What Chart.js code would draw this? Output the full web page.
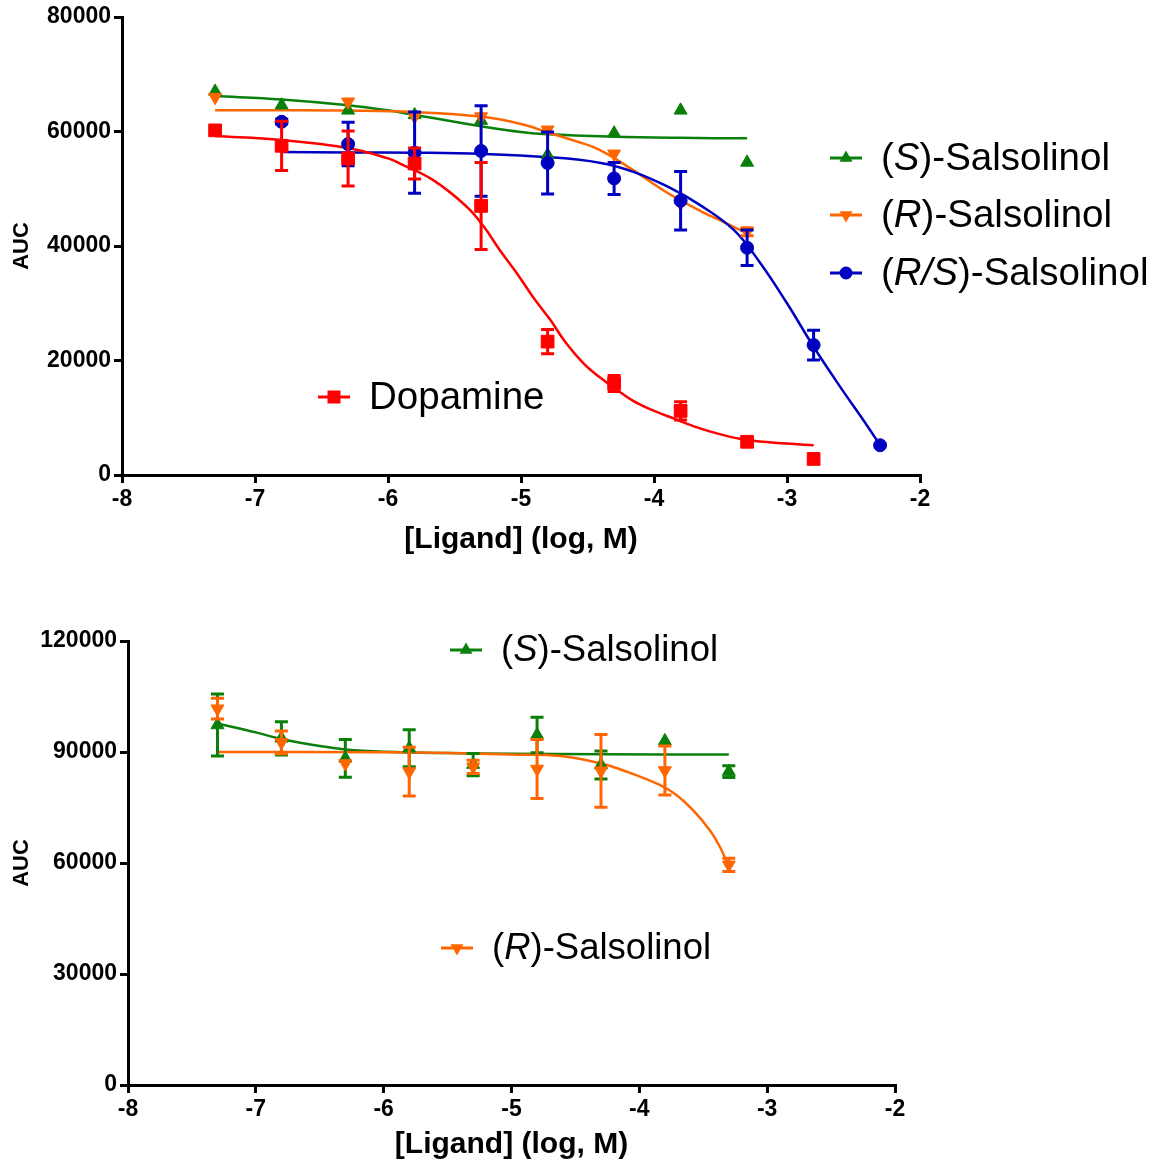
<!DOCTYPE html>
<html>
<head>
<meta charset="utf-8">
<script src="https://cdn.jsdelivr.net/npm/chart.js@4.4.0/dist/chart.umd.min.js"></script>
<style>
  body { margin: 0; background: #fff; }
  .box { position: absolute; left: 0; }
</style>
</head>
<body>
<div class="box" style="top:0"><canvas id="chart1" width="1157" height="560"></canvas></div>
<div class="box" style="top:580px"><canvas id="chart2" width="1157" height="584"></canvas></div>
<script>
// doses (log M)
const doses = [-7.3, -6.8, -6.3, -5.8, -5.3, -4.8, -4.3, -3.8, -3.3, -2.8, -2.3];

// top panel - means and SEM
const dopamine = [60200, 57500, 55300, 54400, 47000, 23300, 16000, 11200, 5800, 2800, null];
const dopamineErr = [null, 4300, 4800, 2700, 7600, 2100, 1400, 1600, null, null, null];
const sSals = [67000, 64600, 63700, 62900, 61900, 55900, 59700, 63700, 54600, null, null];
const rSals = [66000, 61700, 65200, 62600, 62600, 60300, 56100, 47400, 42500, null, null];
const rSalsErr = [null, null, null, null, null, null, null, null, 700, null, null];
const rsSals = [null, 61700, 57800, 56300, 56600, 54500, 51800, 47900, 39700, 22700, 5200];
const rsSalsErr = [null, 400, 3800, 7100, 7900, 5400, 2800, 5100, 3100, 2600, null];

// top panel - fitted curves
const dopCurveX = [-7.3, -6.8, -6.3, -6.0, -5.91, -5.66, -5.41, -5.28, -5.16, -5.03, -4.91, -4.78, -4.66, -4.53, -4.41, -4.28, -4.16, -4.03, -3.9, -3.7, -3.5, -3.3, -3.0, -2.8];
const dopCurveY = [59200, 58500, 57100, 55300, 54400, 51500, 46900, 43400, 39300, 35200, 31100, 27100, 23000, 19500, 17100, 14900, 13000, 11500, 10300, 8500, 7100, 6100, 5500, 5200];
const sCurveX = [-7.3, -6.8, -6.3, -6.0, -5.8, -5.5, -5.3, -5.0, -4.8, -4.3, -3.8, -3.3];
const sCurveY = [66200, 65600, 64600, 63700, 62900, 61700, 60900, 59900, 59500, 59100, 58900, 58800];
const rCurveX = [-7.3, -6.8, -6.3, -5.8, -5.3, -5.0, -4.78, -4.6, -4.41, -4.16, -3.9, -3.65, -3.45, -3.3];
const rCurveY = [63700, 63700, 63650, 63400, 62600, 61300, 59700, 58400, 56800, 53300, 49300, 46100, 43900, 42200];
const rsCurveX = [-6.8, -6.3, -5.8, -5.3, -4.78, -4.41, -4.16, -3.9, -3.65, -3.4, -3.2, -3.0, -2.8, -2.6, -2.4, -2.3];
const rsCurveY = [56400, 56350, 56300, 56100, 55500, 54550, 53000, 50400, 47100, 42800, 37000, 30000, 22400, 15400, 8700, 5200];

// bottom panel
const doses2 = [-7.3, -6.8, -6.3, -5.8, -5.3, -4.8, -4.3, -3.8, -3.3];
const sSals2 = [97300, 93700, 88300, 91000, 86600, 94600, 86500, 93000, 84700];
const sSals2Err = [8400, 4500, 5100, 5000, 3000, 4800, 3800, null, 1600];
const rSals2 = [101700, 92600, 86900, 84700, 86000, 85400, 84900, 85000, 59500];
const rSals2Err = [2800, 3100, null, 6600, 1800, 8000, 9800, 6600, 1800];
const sCurve2X = [-7.3, -7.0, -6.8, -6.5, -6.3, -6.0, -5.5, -5.0, -4.3, -3.3];
const sCurve2Y = [97700, 95300, 93500, 91600, 90700, 90100, 89700, 89500, 89400, 89300];
const rCurve2X = [-7.3, -6.0, -5.5, -5.0, -4.62, -4.3, -4.1, -3.84, -3.71, -3.58, -3.45, -3.37, -3.3];
const rCurve2Y = [90000, 89900, 89700, 89300, 88900, 86900, 84700, 81100, 78400, 74300, 68900, 64400, 59000];

const GREEN = "#0a800a";
const ORANGE = "#ff6600";
const BLUE = "#0000c0";
const RED = "#ff0000";
const FONT = "'Liberation Sans', Arial, Helvetica, sans-serif";

function pts(xs, ys) {
  let out = [];
  for (let i = 0; i < xs.length; i++) {
    if (ys[i] !== null && ys[i] !== undefined) out.push({ x: xs[i], y: ys[i] });
  }
  return out;
}

function markers(label, xs, ys, errs, color, style, radius, rotation) {
  return {
    type: "scatter",
    label: label,
    data: pts(xs, ys),
    errors: errs ? errs.filter((e, i) => ys[i] !== null) : null,
    backgroundColor: color,
    borderColor: color,
    borderWidth: 1,
    pointStyle: style,
    pointRadius: radius,
    pointHoverRadius: radius,
    rotation: rotation || 0,
    showLine: false,
  };
}

function curve(xs, ys, color) {
  return {
    type: "line",
    data: pts(xs, ys),
    borderColor: color,
    borderWidth: 2.5,
    pointRadius: 0,
    fill: false,
    tension: 0.4,
  };
}

// error bars drawn right before each marker set
const errorBars = {
  id: "errorBars",
  beforeDatasetDraw(chart, args) {
    const ds = chart.data.datasets[args.index];
    if (!ds.errors) return;
    const ctx = chart.ctx;
    const xs = chart.scales.x, ys = chart.scales.y;
    ctx.save();
    ctx.strokeStyle = ds.borderColor;
    ctx.lineWidth = 3;
    ds.data.forEach((p, i) => {
      const e = ds.errors[i];
      if (!e) return;
      const px = xs.getPixelForValue(p.x);
      const top = ys.getPixelForValue(p.y + e);
      const bot = ys.getPixelForValue(p.y - e);
      ctx.beginPath();
      ctx.moveTo(px, top); ctx.lineTo(px, bot);
      ctx.moveTo(px - 6.5, top); ctx.lineTo(px + 6.5, top);
      ctx.moveTo(px - 6.5, bot); ctx.lineTo(px + 6.5, bot);
      ctx.stroke();
    });
    ctx.restore();
  },
};

function drawMarker(ctx, style, x, y, color) {
  ctx.fillStyle = color;
  ctx.beginPath();
  if (style === "rect") {
    ctx.rect(x - 6.5, y - 6.5, 13, 13);
  } else if (style === "circle") {
    ctx.arc(x, y, 6.5, 0, Math.PI * 2);
  } else if (style === "up") {
    ctx.moveTo(x, y - 7.5); ctx.lineTo(x + 6.5, y + 3.75); ctx.lineTo(x - 6.5, y + 3.75);
  } else {
    ctx.moveTo(x, y + 7.5); ctx.lineTo(x + 6.5, y - 3.75); ctx.lineTo(x - 6.5, y - 3.75);
  }
  ctx.closePath();
  ctx.fill();
}

// legend entries with italic stereo descriptors
const legendPlugin = {
  id: "richLegend",
  afterDraw(chart, args, opts) {
    const ctx = chart.ctx;
    ctx.save();
    opts.items.forEach((it) => {
      ctx.strokeStyle = it.color;
      ctx.lineWidth = 3;
      ctx.beginPath();
      ctx.moveTo(it.x - 16, it.y); ctx.lineTo(it.x + 16, it.y);
      ctx.stroke();
      drawMarker(ctx, it.style, it.x, it.y, it.color);
      let tx = it.x + 35;
      ctx.fillStyle = "#000";
      ctx.textBaseline = "middle";
      it.parts.forEach((p) => {
        ctx.font = (p[1] ? "italic " : "") + opts.size + "px " + FONT;
        ctx.fillText(p[0], tx, it.y + 1);
        tx += ctx.measureText(p[0]).width;
      });
    });
    ctx.restore();
  },
};

function axes(yMax, yStep, yWidth, xHeight, titlePad) {
  const tickFont = { family: FONT, size: 23, weight: "bold" };
  return {
    x: {
      type: "linear", min: -8, max: -2,
      ticks: { stepSize: 1, color: "#000", font: tickFont, padding: 3 },
      grid: { drawOnChartArea: false, drawTicks: true, tickLength: 8, color: "#000", lineWidth: 3 },
      border: { display: true, color: "#000", width: 3 },
      title: { display: true, text: "[Ligand] (log, M)", color: "#000", font: { family: FONT, size: 30, weight: "bold" }, padding: { top: 0, bottom: titlePad } },
      afterFit(s) { s.height = xHeight; },
    },
    y: {
      type: "linear", min: 0, max: yMax,
      ticks: { stepSize: yStep, color: "#000", font: tickFont, padding: 3, callback: (v) => String(v) },
      grid: { drawOnChartArea: false, drawTicks: true, tickLength: 8, color: "#000", lineWidth: 3 },
      border: { display: true, color: "#000", width: 3 },
      title: { display: true, text: "AUC", color: "#000", font: { family: FONT, size: 22, weight: "bold" }, padding: { top: 9, bottom: 0 } },
      afterFit(s) { s.width = yWidth; },
    },
  };
}

new Chart(document.getElementById("chart1"), {
  data: {
    datasets: [
      markers("Dopamine", doses, dopamine, dopamineErr, RED, "rect", 9),
      markers("(R/S)-Salsolinol", doses, rsSals, rsSalsErr, BLUE, "circle", 6.5),
      markers("(R)-Salsolinol", doses, rSals, rSalsErr, ORANGE, "triangle", 7.5, 180),
      markers("(S)-Salsolinol", doses, sSals, null, GREEN, "triangle", 7.5),
      curve(dopCurveX, dopCurveY, RED),
      curve(rsCurveX, rsCurveY, BLUE),
      curve(rCurveX, rCurveY, ORANGE),
      curve(sCurveX, sCurveY, GREEN),
    ],
  },
  options: {
    responsive: false,
    animation: false,
    layout: { padding: { left: 0, right: 237, top: 17, bottom: 0 } },
    scales: axes(80000, 20000, 122, 85, 2),
    plugins: {
      legend: { display: false },
      tooltip: { enabled: false },
      richLegend: {
        size: 38.5,
        items: [
          { x: 846, y: 158, color: GREEN, style: "up", parts: [["(", 0], ["S", 1], [")-Salsolinol", 0]] },
          { x: 846, y: 215, color: ORANGE, style: "down", parts: [["(", 0], ["R", 1], [")-Salsolinol", 0]] },
          { x: 846, y: 273, color: BLUE, style: "circle", parts: [["(", 0], ["R/S", 1], [")-Salsolinol", 0]] },
          { x: 334, y: 397, color: RED, style: "rect", parts: [["Dopamine", 0]] },
        ],
      },
    },
  },
  plugins: [errorBars, legendPlugin],
});

new Chart(document.getElementById("chart2"), {
  data: {
    datasets: [
      markers("(R)-Salsolinol", doses2, rSals2, rSals2Err, ORANGE, "triangle", 7.5, 180),
      markers("(S)-Salsolinol", doses2, sSals2, sSals2Err, GREEN, "triangle", 7.5),
      curve(rCurve2X, rCurve2Y, ORANGE),
      curve(sCurve2X, sCurve2Y, GREEN),
    ],
  },
  options: {
    responsive: false,
    animation: false,
    layout: { padding: { left: 0, right: 262, top: 61, bottom: 0 } },
    scales: axes(120000, 30000, 128, 79, 1),
    plugins: {
      legend: { display: false },
      tooltip: { enabled: false },
      richLegend: {
        size: 36.5,
        items: [
          { x: 466, y: 70, color: GREEN, style: "up", parts: [["(", 0], ["S", 1], [")-Salsolinol", 0]] },
          { x: 457, y: 368, color: ORANGE, style: "down", parts: [["(", 0], ["R", 1], [")-Salsolinol", 0]] },
        ],
      },
    },
  },
  plugins: [errorBars, legendPlugin],
});
</script>
</body>
</html>
